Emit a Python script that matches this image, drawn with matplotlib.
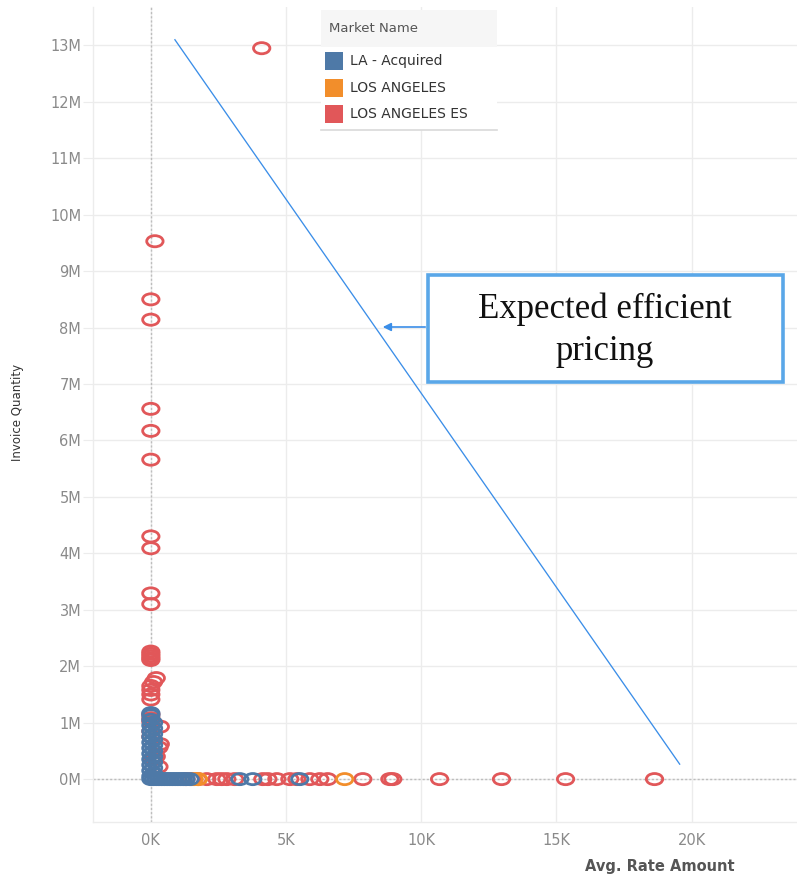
import numpy as np
import matplotlib
matplotlib.use("Agg")
import matplotlib.pyplot as plt
from matplotlib.path import Path
from matplotlib.patches import Rectangle, FancyArrowPatch

plt.rcParams["font.family"] = ["DejaVu Sans"]

# ---------------- data (x in thousands, y in millions) ----------------
series_names = ["LA - Acquired", "LOS ANGELES", "LOS ANGELES ES"]
series_colors = ["#4e79a7", "#f28e2b", "#e15759"]

es_x = [4.1, 0.15, 0.0, 0.0, 0.0, 0.0, 0.0, 0.0, 0.0, 0.0, 0.0,
        0.0, 0.0, 0.0, 0.0, 0.0,
        0.2, 0.1, 0.0, 0.0, 0.0, 0.0,
        0.0, 0.0, 0.0, 0.35, 0.0, 0.0, 0.35, 0.3, 0.1, 0.3, 0.2,
        1.3, 1.5, 1.74, 2.07, 2.44, 2.62, 2.81, 3.1, 4.14, 4.33, 4.66,
        5.14, 5.40, 5.88, 6.25, 6.54, 7.84, 8.84, 8.95, 10.68, 12.97,
        15.34, 18.63]
es_y = [12.95, 9.53, 8.50, 8.14, 6.56, 6.17, 5.66, 4.30, 4.09, 3.29, 3.10,
        2.26, 2.22, 2.18, 2.14, 2.11,
        1.79, 1.72, 1.65, 1.58, 1.50, 1.41,
        1.15, 1.08, 1.02, 0.93, 0.85, 0.75, 0.62, 0.56, 0.35, 0.22, 0.40,
        0.0, 0.0, 0.0, 0.0, 0.0, 0.0, 0.0, 0.0, 0.0, 0.0, 0.0,
        0.0, 0.0, 0.0, 0.0, 0.0, 0.0, 0.0, 0.0, 0.0, 0.0,
        0.0, 0.0]

la_x = [1.6, 1.76, 7.17]
la_y = [0.0, 0.0, 0.0]

acq_x = [0.0, 0.1, 0.2, 0.3, 0.4, 0.5, 0.6, 0.7, 0.8, 0.9, 1.0, 1.1, 1.2,
         1.3, 1.45, 3.29, 3.77, 5.51,
         0.0, 0.1, 0.0, 0.1, 0.0, 0.1, 0.0, 0.1, 0.0, 0.1, 0.0, 0.1, 0.0,
         0.1, 0.0, 0.1, 0.0, 0.1, 0.0, 0.1, 0.0, 0.0, 0.0]
acq_y = [0.0, 0.0, 0.0, 0.0, 0.0, 0.0, 0.0, 0.0, 0.0, 0.0, 0.0, 0.0, 0.0,
         0.0, 0.0, 0.0, 0.0, 0.0,
         0.05, 0.1, 0.15, 0.2, 0.25, 0.3, 0.35, 0.4, 0.45, 0.5, 0.55, 0.6,
         0.65, 0.7, 0.75, 0.8, 0.85, 0.9, 0.95, 1.0, 1.05, 1.13, 1.17]

line_x = [0.89, 19.56]
line_y = [13.1, 0.265]

y_ticks = list(range(0, 14))
y_labels = [f"{v}M" for v in y_ticks]
x_ticks = [0, 5, 10, 15, 20]
x_labels = ["0K", "5K", "10K", "15K", "20K"]

# ---------------- figure ----------------
W, H = 797, 875
fig = plt.figure(figsize=(W / 100, H / 100), dpi=100)
fig.patch.set_facecolor("white")

def fx(px):
    return px / W

def fy(py):
    return 1 - py / H

ax = fig.add_axes([fx(93), fy(822), fx(797) - fx(93), fy(7) - fy(822)])
ax.set_xlim(-2.14, 23.9)
ax.set_ylim(-0.76, 13.68)

grid_c = "#ececec"
ax.set_yticks(y_ticks)
ax.set_yticklabels(y_labels)
ax.set_xticks(x_ticks)
ax.set_xticklabels(x_labels)
ax.grid(True, color=grid_c, lw=1.0, zorder=0)
ax.set_axisbelow(True)
ax.tick_params(axis="y", length=7, color=grid_c, pad=1.5, labelsize=10.5,
               labelcolor="#8a8a8a")
ax.tick_params(axis="x", length=0, pad=8, labelsize=10.5, labelcolor="#8a8a8a")
for s in ["top", "right"]:
    ax.spines[s].set_visible(False)
for s in ["left", "bottom"]:
    ax.spines[s].set_color(grid_c)
    ax.spines[s].set_linewidth(1.0)

# zero lines
ax.axvline(0, color="#bdbdbd", lw=1.0, ls=(0, (1.5, 1.5)), zorder=1)
ax.axhline(0, color="#bdbdbd", lw=1.0, ls=(0, (1.5, 1.5)), zorder=1)

# ellipse marker
circ = Path.unit_circle()
ell = Path(circ.vertices * np.array([1.0, 0.68]), circ.codes)

mk = dict(marker=ell, s=11.8 ** 2, facecolors="none", linewidths=2.0)
ax.scatter(es_x, es_y, edgecolors=series_colors[2], zorder=3, **mk)
ax.scatter(la_x, la_y, edgecolors=series_colors[1], zorder=4, **mk)
ax.scatter(acq_x, acq_y, edgecolors=series_colors[0], zorder=5, **mk)

# expected efficient pricing line
ax.plot(line_x, line_y, color="#3b8ee8", lw=0.95, zorder=6)

# axis titles
fig.text(fx(18), fy(412), "Invoice Quantity", rotation=90, ha="center",
         va="center", fontsize=8.5, color="#333333")
fig.text(fx(660), fy(866), "Avg. Rate Amount", ha="center", va="center",
         fontsize=10.5, fontweight="bold", color="#555555")

# legend (manual)
fig.patches.append(Rectangle((fx(321), fy(130)), fx(497) - fx(321),
                             fy(10) - fy(130), transform=fig.transFigure,
                             facecolor="white", edgecolor="none", zorder=10))
fig.patches.append(Rectangle((fx(321), fy(47)), fx(497) - fx(321),
                             fy(10) - fy(47), transform=fig.transFigure,
                             facecolor="#f6f6f6", edgecolor="none", zorder=11))
fig.lines.append(plt.Line2D([fx(321), fx(497)], [fy(129.5), fy(129.5)],
                            transform=fig.transFigure, color="#d9d9d9",
                            lw=1.2, zorder=11))
fig.text(fx(329), fy(28), "Market Name", ha="left", va="center",
         fontsize=9.5, color="#555555", zorder=12)
for i, (name, col) in enumerate(zip(series_names, series_colors)):
    cy = 61 + i * 26.5
    fig.patches.append(Rectangle((fx(325), fy(cy + 9)), fx(343) - fx(325),
                                 fy(cy - 9) - fy(cy + 9),
                                 transform=fig.transFigure, facecolor=col,
                                 edgecolor="none", zorder=12))
    fig.text(fx(350), fy(cy), name, ha="left", va="center", fontsize=10,
             color="#333333", zorder=12)

# annotation box
fig.patches.append(Rectangle((fx(428), fy(382)), fx(783) - fx(428),
                             fy(275) - fy(382), transform=fig.transFigure,
                             facecolor="white", edgecolor="#5aa7e8",
                             lw=2.6, zorder=10))
fig.text(fx(605), fy(330), "Expected efficient\npricing", ha="center",
         va="center", fontsize=25, family="Liberation Serif",
         color="#111111", linespacing=1.35, zorder=12)
arr = FancyArrowPatch((fx(428), fy(327)), (fx(380), fy(327)),
                      transform=fig.transFigure, arrowstyle="-|>",
                      mutation_scale=12, color="#3b8ee8", lw=1.2, zorder=12)
fig.patches.append(arr)

fig.savefig("out.png", dpi=100, facecolor="white")
